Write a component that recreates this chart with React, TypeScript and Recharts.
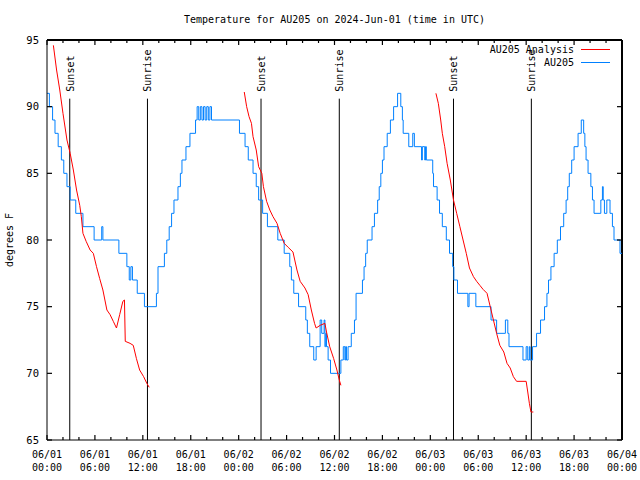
import React from "react";
import { LineChart, Line, XAxis, YAxis, ReferenceLine } from "recharts";

const FONT = "'DejaVu Sans Mono', monospace";
const PLOT_W = 575;
const PLOT_H = 400;

// hours since 06/01 00:00 UTC, temperature in degrees F
const observed: [number, number][] = [
  [0, 91], [0.3, 90], [0.7, 89], [1.0, 88], [1.4, 87], [1.8, 86], [2.1, 85], [2.5, 84],
  [2.9, 83], [3.6, 82], [4.5, 81], [5.9, 80], [6.85, 81], [7.0, 80], [9.0, 79], [10.0, 78],
  [10.3, 77], [10.5, 78], [10.7, 77], [11.3, 76], [12.2, 75], [13.7, 76], [13.9, 78], [14.7, 79],
  [15.0, 80], [15.3, 81], [15.6, 82], [15.9, 83], [16.4, 84], [16.7, 85], [16.9, 86], [17.4, 87],
  [17.9, 88], [18.6, 89], [18.8, 90], [19.0, 89], [19.2, 90], [19.4, 89], [19.6, 90], [19.8, 89],
  [20.0, 90], [20.2, 89], [20.4, 90], [20.6, 89], [24.1, 88], [24.8, 87], [25.2, 86], [25.8, 85],
  [26.2, 84], [26.5, 83], [27.0, 82], [27.6, 81], [28.9, 80], [29.7, 79], [30.4, 78], [30.6, 77],
  [30.9, 76], [31.5, 75], [32.4, 74], [32.6, 73], [32.9, 72], [33.4, 71], [33.7, 72], [34.2, 74],
  [34.4, 73], [34.7, 74], [34.8, 72], [34.9, 73], [35.0, 72], [35.2, 71], [35.5, 70], [36.8, 71],
  [37.1, 72], [37.3, 71], [37.4, 72], [37.5, 71], [37.7, 72], [38.1, 73], [38.5, 74], [38.7, 76],
  [39.5, 77], [39.7, 78], [39.9, 79], [40.1, 80], [40.7, 81], [41.0, 82], [41.4, 83], [41.6, 84],
  [41.8, 85], [42.0, 86], [42.2, 87], [42.6, 88], [43.0, 89], [43.4, 90], [43.9, 91], [44.3, 90],
  [44.5, 89], [44.6, 88], [45.3, 87], [45.8, 88], [46.0, 87], [46.9, 86], [47.0, 87], [47.3, 86],
  [47.4, 87], [47.5, 86], [48.3, 85], [48.4, 84], [48.85, 83], [49.15, 82], [49.5, 81], [50.0, 80],
  [50.4, 79], [50.8, 78], [50.95, 77], [51.4, 76], [52.7, 75], [52.85, 76], [53.7, 75], [55.6, 74],
  [56.3, 73], [57.4, 74], [57.7, 73], [57.85, 72], [59.6, 71], [60.0, 72], [60.2, 71], [60.4, 72],
  [60.5, 71], [60.8, 72], [61.3, 73], [61.8, 74], [62.3, 75], [62.6, 76], [62.8, 77], [63.1, 78],
  [63.5, 79], [63.9, 80], [64.3, 81], [64.7, 82], [65.0, 83], [65.2, 84], [65.4, 85], [65.7, 86],
  [66.0, 87], [66.5, 88], [66.9, 89], [67.2, 88], [67.35, 87], [67.5, 86], [67.75, 85], [68.1, 84],
  [68.3, 83], [68.5, 82], [69.35, 83], [69.55, 84], [69.65, 83], [69.8, 82], [70.1, 83], [70.5, 82],
  [70.8, 81], [71.0, 80], [71.75, 79], [72, 79],
];

const analysisDay1: [number, number][] = [
  [0.8, 94.6], [1.2, 92.75], [1.6, 91.25], [2.0, 89.5], [2.5, 87.5], [2.9, 86.5], [3.3, 85.25],
  [3.7, 83.75], [4.1, 82.6], [4.3, 81.75], [4.5, 80.5], [4.9, 79.9], [5.4, 79.25], [5.8, 79],
  [6.2, 78], [6.6, 77.1], [7.0, 76.25], [7.5, 74.75], [7.9, 74.4], [8.3, 73.9], [8.7, 73.4],
  [9.1, 74.4], [9.5, 75.4], [9.7, 75.5], [9.8, 72.4], [10.4, 72.25], [10.8, 72.1], [11.2, 71.1],
  [11.6, 70.25], [12.1, 69.75], [12.5, 69.25], [12.8, 68.95],
];

const analysisDay2: [number, number][] = [
  [24.7, 91.1], [25.0, 90], [25.3, 89.25], [25.6, 88.75], [25.8, 87.75], [26.2, 86.75],
  [26.5, 85.5], [26.9, 85], [27.1, 84], [27.5, 82.9], [27.9, 82.25], [28.3, 81.75], [28.8, 81.25],
  [29.2, 80.5], [29.7, 79.75], [30.2, 79.45], [30.8, 79.1], [31.3, 77.75], [31.7, 76.9],
  [32.3, 76.4], [32.7, 75.9], [33.1, 74.75], [33.5, 73.75], [33.7, 73.4], [34.2, 73.6],
  [34.8, 73.75], [35.0, 73.1], [35.4, 72], [35.9, 71.1], [36.3, 70.25], [36.6, 69.5], [36.8, 69.1],
];

const analysisDay3: [number, number][] = [
  [48.7, 91], [49.0, 90.25], [49.3, 89], [49.5, 88], [49.8, 87], [50.1, 85.75], [50.5, 84.5],
  [50.9, 83], [51.3, 82], [51.7, 81], [52.1, 80], [52.5, 79], [52.9, 77.9], [53.4, 77.25],
  [53.8, 76.9], [54.2, 76.6], [54.6, 76.3], [55.1, 76], [55.5, 75], [55.9, 74], [56.3, 73],
  [56.7, 72.1], [57.2, 71.6], [57.6, 70.75], [58.0, 70.4], [58.4, 69.75], [58.8, 69.4],
  [60.0, 69.4], [60.2, 68.6], [60.4, 67.75], [60.6, 67.1], [60.9, 67.1],
];

const sunHours = [2.85, 12.58, 26.8, 36.6, 50.9, 60.65];
const sunLabels = ["Sunset", "Sunrise", "Sunset", "Sunrise", "Sunset", "Sunrise"];
const sunLineTop = 90.6;

const hourTicks = [
  0, 2, 4, 6, 8, 10, 12, 14, 16, 18, 20, 22, 24, 26, 28, 30, 32, 34, 36,
  38, 40, 42, 44, 46, 48, 50, 52, 54, 56, 58, 60, 62, 64, 66, 68, 70, 72,
];
const dayLabels = ["06/01", "06/02", "06/03", "06/04"];
const tempTicks = [65, 70, 75, 80, 85, 90, 95];

const toRows = (pairs: [number, number][]) => pairs.map(([hour, temp]) => ({ hour, temp }));

// bottom tick also draws the mirrored tick on the top border
function BottomTick({ x, y, payload }: any) {
  const v = payload.value;
  const major = v % 6 === 0;
  const len = major ? 5 : 3;
  const day = dayLabels[Math.floor(v / 24)];
  const hh = String(v % 24).padStart(2, "0");
  return (
    <g>
      <line x1={x} x2={x} y1={y} y2={y - len} stroke="#000" strokeWidth={1.2} />
      <line x1={x} x2={x} y1={y - PLOT_H} y2={y - PLOT_H + len} stroke="#000" strokeWidth={1.2} />
      {major && (
        <text x={x} y={y + 17.5} textAnchor="middle" fontSize={10} fontFamily={FONT} fill="#000">
          {day}
          <tspan x={x} dy={13.5}>{hh}:00</tspan>
        </text>
      )}
    </g>
  );
}

// left tick also draws the mirrored tick on the right border
function LeftTick({ x, y, payload }: any) {
  return (
    <g>
      <line x1={x} x2={x + 5} y1={y} y2={y} stroke="#000" strokeWidth={1.2} />
      <line x1={x + PLOT_W} x2={x + PLOT_W - 5} y1={y} y2={y} stroke="#000" strokeWidth={1.2} />
      <text x={x - 8} y={y + 3.7} textAnchor="end" fontSize={10.5} fontFamily={FONT} fill="#000">
        {payload.value}
      </text>
    </g>
  );
}

function sunLabel(text: string) {
  return (props: any) => {
    const vb = props.viewBox || {};
    const tx = vb.x + 4;
    const ty = vb.y - 7;
    return (
      <text
        x={tx}
        y={ty}
        transform={`rotate(-90 ${tx} ${ty})`}
        textAnchor="start"
        fontSize={10}
        fontFamily={FONT}
        fill="#000"
      >
        {text}
      </text>
    );
  };
}

function yLabel(props: any) {
  const vb = props.viewBox || {};
  const tx = vb.x + 6;
  const ty = vb.y + vb.height / 2;
  return (
    <text x={tx} y={ty} transform={`rotate(-90 ${tx} ${ty})`} textAnchor="middle" fontSize={10} fontFamily={FONT} fill="#000">
      degrees F
    </text>
  );
}

export default function App() {
  return (
    <div style={{ position: "absolute", left: 0, top: 0, width: 640, height: 480, background: "#fff", fontFamily: FONT }}>
      <LineChart width={640} height={480} margin={{ top: 40, right: 18, bottom: 0, left: 7 }}>
        <XAxis
          dataKey="hour"
          type="number"
          domain={[0, 72]}
          ticks={hourTicks}
          interval={0}
          height={40}
          tickSize={0}
          tickMargin={0}
          tickLine={false}
          axisLine={{ stroke: "#000" }}
          tick={<BottomTick />}
        />
        <YAxis
          type="number"
          domain={[65, 95]}
          ticks={tempTicks}
          interval={0}
          width={40}
          tickSize={0}
          tickMargin={0}
          tickLine={false}
          axisLine={{ stroke: "#000" }}
          tick={<LeftTick />}
          label={yLabel}
        />
        {/* top and right border of the frame */}
        <ReferenceLine y={95} stroke="#000" strokeWidth={2} ifOverflow="visible" />
        <ReferenceLine x={72} stroke="#000" strokeWidth={2} ifOverflow="visible" />
        {sunHours.map((h, i) => (
          <ReferenceLine
            key={i}
            segment={[{ x: h, y: sunLineTop }, { x: h, y: 65 }]}
            stroke="#000"
            strokeWidth={1}
            ifOverflow="visible"
            label={sunLabel(sunLabels[i])}
          />
        ))}
        <Line
          data={toRows(observed)}
          dataKey="temp"
          type="stepAfter"
          stroke="#0080ff"
          strokeWidth={1}
          dot={false}
          isAnimationActive={false}
        />
        {[analysisDay1, analysisDay2, analysisDay3].map((seg, i) => (
          <Line
            key={i}
            data={toRows(seg)}
            dataKey="temp"
            type="linear"
            stroke="#ff0000"
            strokeWidth={1}
            dot={false}
            isAnimationActive={false}
          />
        ))}
      </LineChart>
      <div style={{ position: "absolute", left: 47, top: 14, width: 575, textAlign: "center", fontSize: 10, lineHeight: "12px" }}>
        Temperature for AU205 on 2024-Jun-01 (time in UTC)
      </div>
      <div style={{ position: "absolute", right: 66, top: 44, fontSize: 10, lineHeight: "12px", textAlign: "right" }}>
        AU205 Analysis
      </div>
      <div style={{ position: "absolute", left: 581, top: 49, width: 29, height: 1, background: "#ff0000" }} />
      <div style={{ position: "absolute", right: 66, top: 56.5, fontSize: 10, lineHeight: "12px", textAlign: "right" }}>
        AU205
      </div>
      <div style={{ position: "absolute", left: 581, top: 61.5, width: 29, height: 1, background: "#0080ff" }} />
    </div>
  );
}
